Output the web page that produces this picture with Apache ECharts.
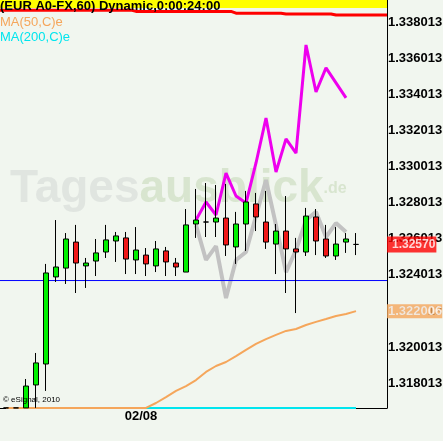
<!DOCTYPE html>
<html>
<head>
<meta charset="utf-8">
<script src="https://cdn.jsdelivr.net/npm/echarts@6/dist/echarts.min.js"></script>
<style>
  html, body { margin: 0; padding: 0; background: #f1f6ef; }
  #chart { width: 443px; height: 441px; }
</style>
</head>
<body>
<div id="chart"></div>
<script>
// EUR A0-FX, 60 min bars, index 0 = first bar on screen
const opens  = [1.31665, 1.31665, 1.31665, 1.31792, 1.31908, 1.32390, 1.32439, 1.32583, 1.32451, 1.32478, 1.32528, 1.32589, 1.32606, 1.32484, 1.32511, 1.32451, 1.32534, 1.32467, 1.32417, 1.32683, 1.32694, 1.32694, 1.32716, 1.32556, 1.32683, 1.32794, 1.32694, 1.32572, 1.32644, 1.32545, 1.32528, 1.32722, 1.32600, 1.32506, 1.32583, 1.32570];
const closes = [1.31665, 1.31665, 1.31786, 1.31914, 1.32412, 1.32445, 1.32600, 1.32467, 1.32467, 1.32523, 1.32595, 1.32617, 1.32489, 1.32539, 1.32462, 1.32545, 1.32473, 1.32445, 1.32678, 1.32705, 1.32694, 1.32716, 1.32567, 1.32683, 1.32805, 1.32722, 1.32583, 1.32644, 1.32545, 1.32528, 1.32727, 1.32589, 1.32506, 1.32572, 1.32600, 1.32570];
const lows   = [1.31665, 1.31665, 1.31665, 1.31665, 1.31759, 1.32362, 1.32351, 1.32301, 1.32329, 1.32395, 1.32495, 1.32473, 1.32406, 1.32406, 1.32395, 1.32417, 1.32395, 1.32395, 1.32417, 1.32606, 1.32611, 1.32611, 1.32506, 1.32462, 1.32534, 1.32644, 1.32545, 1.32406, 1.32301, 1.32190, 1.32506, 1.32511, 1.32495, 1.32484, 1.32523, 1.32511];
const highs  = [1.31665, 1.31665, 1.31825, 1.31969, 1.32462, 1.32705, 1.32633, 1.32678, 1.32495, 1.32600, 1.32678, 1.32639, 1.32639, 1.32666, 1.32550, 1.32589, 1.32556, 1.32495, 1.32766, 1.32877, 1.32910, 1.32899, 1.32905, 1.32750, 1.32866, 1.32855, 1.32866, 1.32683, 1.32838, 1.32606, 1.32772, 1.32766, 1.32678, 1.32666, 1.32633, 1.32633];

const ma50  = [1.31665, 1.31665, 1.31665, 1.31665, 1.31665, 1.31665, 1.31665, 1.31665, 1.31665, 1.31665, 1.31665, 1.31665, 1.31665, 1.31665,
               1.31665, 1.31692, 1.31725, 1.31759, 1.31786, 1.31819, 1.31864, 1.31897, 1.31919, 1.31952, 1.31986, 1.32019, 1.32046, 1.32069, 1.32091, 1.32102, 1.32124, 1.32141, 1.32157, 1.32174, 1.32185, 1.322006];
const ma200 = [null, null, null, null, null, null, null, null, null, null, null, null, null, null,
               1.31665, 1.31665, 1.31665, 1.31665, 1.31665, 1.31665, 1.31665, 1.31665, 1.31665, 1.31665, 1.31665, 1.31665, 1.31665, 1.31665, 1.31665, 1.31665, 1.31665, 1.31665, 1.31665, 1.31665, 1.31665, 1.31665];
const pinkLine = [null, null, null, null, null, null, null, null, null, null, null, null, null, null, null, null, null, null, null,
                  1.32705, 1.32805, 1.32733, 1.32965, 1.32838, 1.32799, 1.33021, 1.33270, 1.32971, 1.33154, 1.33076, 1.33674, 1.33414, 1.33547, 1.33464, 1.33381, null];
const grayLine = [null, null, null, null, null, null, null, null, null, null, null, null, null, null, null, null, null, null, null,
                  1.32677, 1.32484, 1.32561, 1.32273, 1.32484, 1.32528, 1.32727, 1.32927, 1.32677, 1.32417, 1.32539, 1.32705, 1.32750, 1.32611, 1.32688, 1.32639, null];
const redTop = [1.33867, 1.33867, 1.33867, 1.33867, 1.33867, 1.33867, 1.33867, 1.33867, 1.33867, 1.33867, 1.33867, 1.33867, 1.33867,
                1.33860, 1.33860, 1.33860, 1.33860, 1.33860, 1.33860, 1.33860, 1.33860, 1.33860, 1.33860,
                1.33850, 1.33850, 1.33850, 1.33850, 1.33850,
                1.33846, 1.33846, 1.33846, 1.33846, 1.33846,
                1.33840, 1.33840, 1.33840];

const lastPrice = 1.32570;
const blueLevel = 1.32370;

const yTickLabels = ['1.318013', '1.320013', '1.322013', '1.324013', '1.326013', '1.328013', '1.330013', '1.332013', '1.334013', '1.336013', '1.338013'];
const dateLabels = ['02/08'];
const dateLabelPos = [13.5];

const yMin = 1.316644, yMax = 1.339231;
const xMin = -0.6, xMax = 38.1;

const FONT = 'Liberation Sans, Arial, sans-serif';

function pairs(arr) {
  return arr.map((v, i) => v == null ? null : [i, v]).filter(p => p);
}

// price box glued to the right axis
function priceTag(value, text, bg, size, pad) {
  return {
    type: 'scatter', data: [[xMax, value]], z: 6, clip: false, silent: true,
    symbolSize: 0,
    label: {
      show: true, position: 'right', distance: 0, formatter: text,
      backgroundColor: bg, color: '#fff',
      fontFamily: FONT, fontWeight: 'bold', fontSize: size, lineHeight: 13,
      padding: pad
    }
  };
}

const chart = echarts.init(document.getElementById('chart'));

const candleData = opens.map((o, i) => [i, o, closes[i], lows[i], highs[i]]);
const redData = [[xMin, redTop[0]]].concat(pairs(redTop), [[xMax, redTop[redTop.length - 1]]]);

chart.setOption({
  animation: false,
  backgroundColor: '#f1f6ef',
  grid: { left: 0, right: 56, top: 0, bottom: 33, outerBoundsMode: 'none' },
  xAxis: {
    type: 'value',
    min: xMin,
    max: xMax,
    splitLine: { show: false },
    axisTick: { show: false },
    axisLine: { onZero: false, lineStyle: { color: '#000', width: 1 } },
    axisLabel: {
      customValues: dateLabelPos,
      formatter: v => dateLabels[dateLabelPos.indexOf(v)] || '',
      color: '#000', fontFamily: FONT, fontWeight: 'bold', fontSize: 13, margin: 2
    }
  },
  yAxis: {
    type: 'value',
    position: 'right',
    min: yMin,
    max: yMax,
    splitLine: { show: false },
    axisTick: { show: false },
    axisLine: { show: true, onZero: false, lineStyle: { color: '#000', width: 1 } },
    axisLabel: {
      customValues: yTickLabels.map(Number),
      formatter: v => v.toFixed(6),
      color: '#000', fontFamily: FONT, fontWeight: 'bold', fontSize: 13, margin: 1
    }
  },
  graphic: [
    { type: 'text', left: 10, top: 166, z: 0, silent: true,
      style: {
        text: '{g|Tages}{b|ausblick}{d|.de}',
        rich: {
          g: { fill: '#e0e5e0', fontSize: 46, fontWeight: 'bold', fontFamily: FONT },
          b: { fill: '#d8e5cf', fontSize: 46, fontWeight: 'bold', fontFamily: FONT },
          d: { fill: '#d8e5cf', fontSize: 16, fontWeight: 'bold', fontFamily: FONT }
        }
      } },
    { type: 'rect', left: 0, top: 0, z: 50, silent: true,
      shape: { width: 387, height: 8 }, style: { fill: '#ffff00' } },
    { type: 'text', left: 0, top: 0, z: 60, silent: true,
      style: { text: '(EUR A0-FX,60) Dynamic,0:00:24:00', fill: '#000', font: 'bold 13px ' + FONT } },
    { type: 'text', left: 0, top: 16, z: 60, silent: true,
      style: { text: 'MA(50,C)e', fill: '#f5a65b', font: '13px ' + FONT } },
    { type: 'text', left: 0, top: 31, z: 60, silent: true,
      style: { text: 'MA(200,C)e', fill: '#00e5ee', font: '13px ' + FONT } },
    { type: 'text', left: 3, top: 396, z: 60, silent: true,
      style: { text: '© eSignal, 2010', fill: '#000', font: '8px ' + FONT } }
  ],
  series: [
    {
      name: 'trend', type: 'line', data: pairs(grayLine), z: 2,
      symbol: 'none', lineStyle: { color: '#c2c2c2', width: 4 }
    },
    {
      name: 'support', type: 'line', data: [[xMin, blueLevel], [xMax, blueLevel]], z: 2,
      symbol: 'none', lineStyle: { color: '#0000ff', width: 1 }
    },
    {
      name: 'osc', type: 'line', data: pairs(pinkLine), z: 3,
      symbol: 'none', lineStyle: { color: '#ee00ee', width: 3 }
    },
    {
      name: 'top', type: 'line', data: redData, z: 3, step: 'middle',
      symbol: 'none', lineStyle: { color: '#ff0000', width: 3 }
    },
    {
      name: 'MA(200,C)e', type: 'line', data: pairs(ma200), z: 3,
      symbol: 'none', lineStyle: { color: '#00e5ee', width: 2 }
    },
    {
      name: 'MA(50,C)e', type: 'line', data: pairs(ma50), z: 3,
      symbol: 'none', lineStyle: { color: '#f5a65b', width: 2 }
    },
    {
      name: 'EUR A0-FX', type: 'candlestick', data: candleData, z: 4,
      barWidth: 6,
      itemStyle: {
        color: '#00f000', color0: '#f01818',
        borderColor: '#000', borderColor0: '#000', borderColorDoji: '#000',
        borderWidth: 1
      }
    },
    priceTag(ma50[ma50.length - 1], ma50[ma50.length - 1].toFixed(6), '#f5a65b', 13, [1, 0, 0, 1]),
    priceTag(lastPrice, lastPrice.toFixed(5), '#ff0000', 12, [2, 1, 1, 5])
  ]
});
</script>
</body>
</html>
